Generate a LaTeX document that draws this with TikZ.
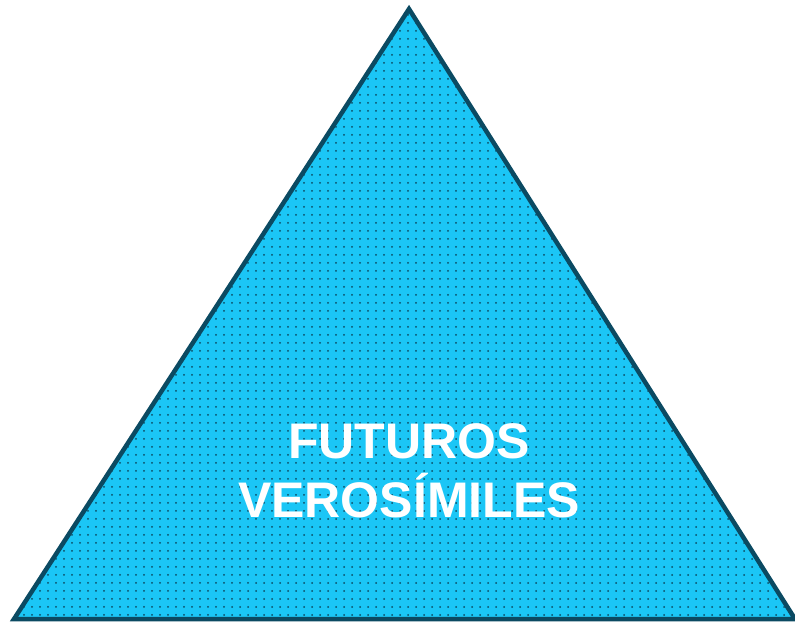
\documentclass[tikz,border=0pt]{standalone}
\usepackage{fontspec}
\setmainfont{Liberation Sans}
\usetikzlibrary{patterns.meta}
\definecolor{fillcyan}{HTML}{1BC6F6}
\definecolor{edgedark}{HTML}{0B4A62}
\definecolor{dotdark}{HTML}{0B4A62}
\tikzset{
  tri/.style={draw=edgedark, line width=4.5pt, line join=miter},
  dotfill/.style={pattern={Dots[distance=8pt, radius=1pt]}, pattern color=dotdark},
  label/.style={text=white, font=\bfseries\fontsize{50}{58}\selectfont, align=center}
}
\begin{document}
\begin{tikzpicture}[x=1pt,y=-1pt]
\useasboundingbox (0,0) rectangle (795,623);
\coordinate (top) at (409,9);
\coordinate (bl) at (14,619);
\coordinate (br) at (795,619);
\fill[fillcyan] (top) -- (bl) -- (br) -- cycle;
\fill[dotfill] (top) -- (bl) -- (br) -- cycle;
\draw[tri] (top) -- (bl) -- (br) -- cycle;
\node[label, anchor=base] (t1) at (409,458) {FUTUROS};
\node[label, anchor=base] (t2) at (409,517) {VEROSÍMILES};
\end{tikzpicture}
\end{document}
